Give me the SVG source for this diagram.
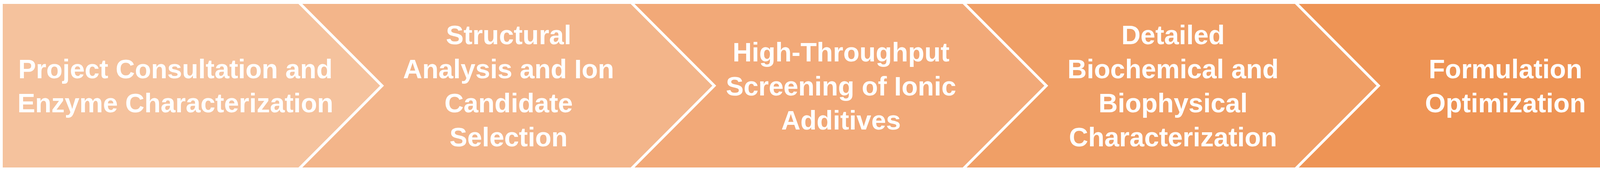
<svg xmlns="http://www.w3.org/2000/svg" width="5235" height="437" viewBox="0 0 5235 437">
  <style>
    .shape { stroke: #FFFFFF; stroke-width: 7; stroke-linejoin: miter; stroke-miterlimit: 10; }
    .label { font-family: "Liberation Sans", Arial, sans-serif; font-weight: bold; font-size: 68px; fill: #FFFFFF; text-anchor: middle; }
  </style>
  <rect x="0" y="0" width="5235" height="437" fill="#FFFFFF"/>
  <g id="connectors"></g>
  <g id="step6">
    <polygon class="shape" fill="#ED8A44" points="4160,6.5 5016.5,6.5 5229,219 5016.5,431.5 4160,431.5"/>
    <text class="label" x="4704"><tspan x="4704" y="157">Final Data</tspan><tspan x="4704" y="244">Analysis and</tspan><tspan x="4704" y="331">Reporting</tspan></text>
  </g>
  <g id="step5">
    <polygon class="shape" fill="#EE9455" points="3310,6.5 4167,6.5 4379.5,219 4167,431.5 3310,431.5"/>
    <text class="label" x="3854"><tspan x="3854" y="200">Formulation</tspan><tspan x="3854" y="287">Optimization</tspan></text>
  </g>
  <g id="step4">
    <polygon class="shape" fill="#F09F66" points="2460,6.5 3316.5,6.5 3529,219 3316.5,431.5 2460,431.5"/>
    <text class="label" x="3003"><tspan x="3003" y="113">Detailed</tspan><tspan x="3003" y="200">Biochemical and</tspan><tspan x="3003" y="287">Biophysical</tspan><tspan x="3003" y="374">Characterization</tspan></text>
  </g>
  <g id="step3">
    <polygon class="shape" fill="#F2A978" points="1610,6.5 2466,6.5 2678.5,219 2466,431.5 1610,431.5"/>
    <text class="label" x="2153"><tspan x="2153" y="157">High-Throughput</tspan><tspan x="2153" y="244">Screening of Ionic</tspan><tspan x="2153" y="331">Additives</tspan></text>
  </g>
  <g id="step2">
    <polygon class="shape" fill="#F3B58A" points="760,6.5 1616,6.5 1828.5,219 1616,431.5 760,431.5"/>
    <text class="label" x="1302"><tspan x="1302" y="113">Structural</tspan><tspan x="1302" y="200">Analysis and Ion</tspan><tspan x="1302" y="287">Candidate</tspan><tspan x="1302" y="374">Selection</tspan></text>
  </g>
  <g id="step1">
    <polygon class="shape" fill="#F5C29D" points="3.5,6.5 765.5,6.5 978,219 765.5,431.5 3.5,431.5"/>
    <text class="label" x="449"><tspan x="449" y="200">Project Consultation and</tspan><tspan x="449" y="287">Enzyme Characterization</tspan></text>
  </g>
</svg>
